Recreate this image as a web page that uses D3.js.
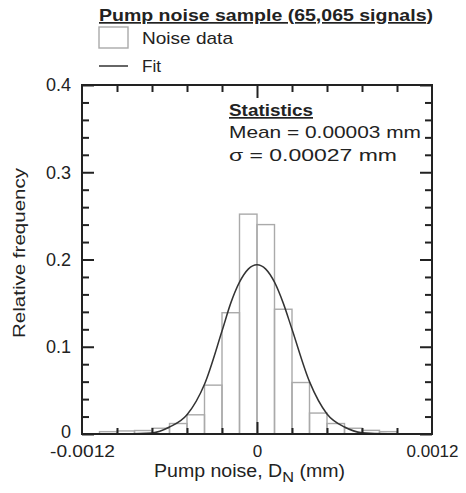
<!DOCTYPE html>
<html>
<head>
  <meta charset="utf-8">
  <script src="https://cdn.jsdelivr.net/npm/d3@7"></script>
  <style>
    body { margin: 0; background: #fff; }
    text { font-family: "Liberation Sans", Arial, sans-serif; fill: #222; }
  </style>
</head>
<body>
  <svg width="466" height="493" id="chart"></svg>
  <script>
    // histogram bins (left edge, mm) and relative frequency
    const binWidth = 0.00012;
    const binStart = [-0.00108, -0.00096, -0.00084, -0.00072, -0.0006, -0.00048, -0.00036, -0.00024, -0.00012,
      0, 0.00012, 0.00024, 0.00036, 0.00048, 0.0006, 0.00072, 0.00084];
    const binFreq = [0.0027, 0.0035, 0.004, 0.0066, 0.012, 0.022, 0.056, 0.139, 0.252,
      0.240, 0.143, 0.059, 0.024, 0.012, 0.0066, 0.0042, 0.0027];

    // fitted curve, points
    const fitX = [-0.0012, -0.0009, -0.00072, -0.0006, -0.00048, -0.00036, -0.00024, -0.00018, -0.00012, -0.00006,
      0, 0.00006, 0.00012, 0.00018, 0.00024, 0.00036, 0.00048, 0.0006, 0.00072, 0.0009, 0.0012];
    const fitY = [0, 0.0002, 0.0012, 0.008, 0.022, 0.057, 0.118, 0.150, 0.174, 0.189,
      0.194, 0.189, 0.174, 0.150, 0.120, 0.060, 0.023, 0.008, 0.0015, 0.0002, 0];

    const xMajor = [-0.0012, 0, 0.0012];
    const xMinor = [-0.00096, -0.00072, -0.00048, -0.00024, 0.00024, 0.00048, 0.00072, 0.00096];
    const yMajor = [0, 0.1, 0.2, 0.3, 0.4];
    const yMinor = [0.02, 0.04, 0.06, 0.08, 0.12, 0.14, 0.16, 0.18, 0.22, 0.24, 0.26, 0.28, 0.32, 0.34, 0.36, 0.38];

    const title = 'Pump noise sample (65,065 signals)';
    const statLines = ['Mean = 0.00003 mm', 'σ = 0.00027 mm'];
    const statWidths = [192, 168];

    const svg = d3.select('#chart');
    const pLeft = 82, pRight = 432, pTop = 85, pBottom = 434;

    const xScale = d3.scaleLinear().domain([-0.0012, 0.0012]).range([pLeft, pRight]);
    const yScale = d3.scaleLinear().domain([0, 0.4]).range([pBottom, pTop]);

    // the original's lettering is a bit stretched sideways, so fit some texts to width
    const stretch = (sel, w) => sel.attr('textLength', w).attr('lengthAdjust', 'spacingAndGlyphs');

    // bars
    const bars = binStart.map((s, i) => ({ x0: s, x1: s + binWidth, v: binFreq[i] }));
    svg.append('g').selectAll('rect').data(bars).join('rect')
      .attr('x', d => xScale(d.x0))
      .attr('width', d => xScale(d.x1) - xScale(d.x0))
      .attr('y', d => yScale(d.v))
      .attr('height', d => yScale(0) - yScale(d.v))
      .attr('fill', 'none')
      .attr('stroke', '#aaa')
      .attr('stroke-width', 1.4);

    // fit line
    const line = d3.line()
      .x(d => xScale(d[0]))
      .y(d => yScale(d[1]))
      .curve(d3.curveMonotoneX);
    svg.append('path')
      .datum(fitX.map((x, i) => [x, fitY[i]]))
      .attr('d', line)
      .attr('fill', 'none')
      .attr('stroke', '#333')
      .attr('stroke-width', 1.5);

    // axes: labels + inward ticks on all four sides
    const noLabel = () => '';
    const addAxis = (axis, tr) => {
      const ag = svg.append('g').attr('transform', tr).call(axis);
      ag.selectAll('.domain').remove();
      ag.selectAll('line').attr('stroke', '#222').attr('stroke-width', 2);
      return ag;
    };
    addAxis(d3.axisBottom(xScale).tickValues(xMinor).tickSize(-6).tickFormat(noLabel), `translate(0,${pBottom})`);
    addAxis(d3.axisBottom(xScale).tickValues([0]).tickSize(-12).tickFormat(noLabel), `translate(0,${pBottom})`);
    addAxis(d3.axisTop(xScale).tickValues(xMinor).tickSize(-7).tickFormat(noLabel), `translate(0,${pTop})`);
    addAxis(d3.axisTop(xScale).tickValues([0]).tickSize(-13).tickFormat(noLabel), `translate(0,${pTop})`);
    addAxis(d3.axisLeft(yScale).tickValues(yMinor).tickSize(-7).tickFormat(noLabel), `translate(${pLeft},0)`);
    addAxis(d3.axisLeft(yScale).tickValues(yMajor).tickSize(-12).tickFormat(noLabel), `translate(${pLeft},0)`);
    addAxis(d3.axisRight(yScale).tickValues(yMinor).tickSize(-7).tickFormat(noLabel), `translate(${pRight},0)`);
    addAxis(d3.axisRight(yScale).tickValues(yMajor).tickSize(-12).tickFormat(noLabel), `translate(${pRight},0)`);

    const xLab = svg.append('g').attr('transform', `translate(0,${pBottom})`)
      .call(d3.axisBottom(xScale).tickValues(xMajor).tickSize(0).tickPadding(10).tickFormat(d => String(d)));
    xLab.select('.domain').remove();
    xLab.selectAll('text').attr('font-size', '17px').attr('font-family', null).attr('dy', '0.75em');
    xLab.selectAll('.tick').filter(d => d === -0.0012).select('text').call(stretch, 65);

    const yLab = svg.append('g').attr('transform', `translate(${pLeft},0)`)
      .call(d3.axisLeft(yScale).tickValues(yMajor).tickSize(0).tickPadding(11).tickFormat(d => String(d)));
    yLab.select('.domain').remove();
    yLab.selectAll('text').attr('font-size', '18px').attr('font-family', null);
    yLab.selectAll('.tick').filter(d => d === 0).select('text').attr('dy', '0.22em');
    svg.selectAll('.tick text').attr('fill', '#222');

    // frame
    svg.append('rect')
      .attr('x', pLeft).attr('y', pTop)
      .attr('width', pRight - pLeft).attr('height', pBottom - pTop)
      .attr('fill', 'none').attr('stroke', '#222').attr('stroke-width', 2);

    // axis titles
    const xt = svg.append('text')
      .attr('x', 154).attr('y', 477)
      .attr('font-size', '18px');
    xt.append('tspan').text('Pump noise, D');
    xt.append('tspan').attr('dy', 5).attr('font-size', '15px').text('N');
    xt.append('tspan').attr('dy', -5).text(' (mm)');
    stretch(xt, 191);

    svg.append('text')
      .attr('transform', `translate(25,253) rotate(-90)`)
      .attr('text-anchor', 'middle')
      .attr('font-size', '17px')
      .text('Relative frequency')
      .call(stretch, 170);

    // title + legend
    svg.append('text')
      .attr('x', 99).attr('y', 21)
      .attr('font-size', '17px').attr('font-weight', 'bold')
      .attr('text-decoration', 'underline')
      .text(title)
      .call(stretch, 334);
    svg.append('rect')
      .attr('x', 99).attr('y', 27).attr('width', 29).attr('height', 21)
      .attr('fill', 'none').attr('stroke', '#aaa').attr('stroke-width', 1.4);
    svg.append('text').attr('x', 142).attr('y', 44).attr('font-size', '17px')
      .text('Noise data').call(stretch, 91);
    svg.append('line')
      .attr('x1', 99).attr('x2', 128).attr('y1', 66).attr('y2', 66)
      .attr('stroke', '#333').attr('stroke-width', 1.5);
    svg.append('text').attr('x', 142).attr('y', 72).attr('font-size', '17px')
      .text('Fit').call(stretch, 19);

    // statistics box
    svg.append('text')
      .attr('x', 229).attr('y', 116)
      .attr('font-size', '17px').attr('font-weight', 'bold')
      .attr('text-decoration', 'underline')
      .text('Statistics')
      .call(stretch, 84);
    svg.selectAll('.stat').data(statLines).join('text')
      .attr('class', 'stat')
      .attr('x', 229).attr('y', (d, i) => 138 + i * 23)
      .attr('font-size', '17px')
      .attr('textLength', (d, i) => statWidths[i])
      .attr('lengthAdjust', 'spacingAndGlyphs')
      .text(d => d);
  </script>
</body>
</html>
